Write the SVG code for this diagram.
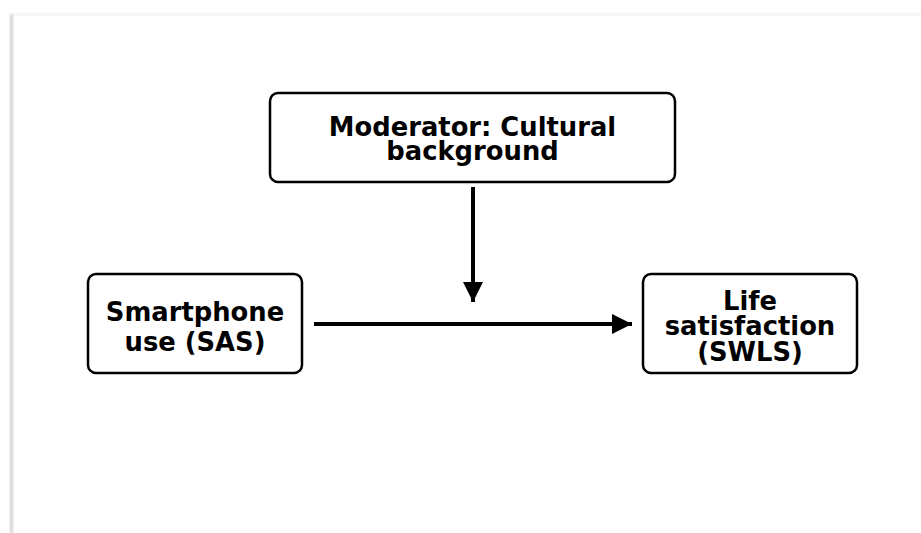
<svg xmlns="http://www.w3.org/2000/svg" width="921" height="533" viewBox="0 0 921 533">
  <defs>
    <style>
      .box { fill: #ffffff; stroke: #000000; stroke-width: 2.5; }
      .lbl { font-family: "DejaVu Sans", "Liberation Sans", sans-serif; font-weight: bold; font-size: 25.8px; fill: #000000; text-anchor: middle; }
      .edge { stroke: #000000; stroke-width: 4; fill: none; }
    </style>
    <marker id="head" viewBox="0 0 10 10" refX="10" refY="5" markerUnits="userSpaceOnUse" markerWidth="20" markerHeight="22" orient="auto">
      <path d="M0,0 L10,5 L0,10 Z" fill="#000000"/>
    </marker>
    <filter id="soft" x="-50%" y="-50%" width="200%" height="200%">
      <feGaussianBlur stdDeviation="0.8"/>
    </filter>
  </defs>

  <rect width="921" height="533" fill="#ffffff"/>

  <!-- page edge shading -->
  <g filter="url(#soft)">
    <line x1="11.5" y1="14" x2="11.5" y2="533" stroke="#bdbdbd" stroke-width="2"/>
    <line x1="11" y1="14.5" x2="921" y2="14.5" stroke="#e6e6e6" stroke-width="1.5"/>
  </g>

  <g id="edges">
    <line class="edge" x1="473" y1="187" x2="473" y2="302" marker-end="url(#head)"/>
    <line class="edge" x1="314" y1="324" x2="632" y2="324" marker-end="url(#head)"/>
  </g>

  <g id="moderator">
    <rect class="box" x="270" y="93" width="405" height="89" rx="8"/>
    <text class="lbl" x="472.5" y="135.5">Moderator: Cultural</text>
    <text class="lbl" x="472.5" y="160">background</text>
  </g>

  <g id="smartphone">
    <rect class="box" x="88" y="274" width="214" height="99" rx="8"/>
    <text class="lbl" x="195" y="320.5">Smartphone</text>
    <text class="lbl" x="195" y="351">use (SAS)</text>
  </g>

  <g id="life">
    <rect class="box" x="643" y="274" width="214" height="99" rx="8"/>
    <text class="lbl" x="750" y="310">Life</text>
    <text class="lbl" x="750" y="335">satisfaction</text>
    <text class="lbl" x="750" y="361">(SWLS)</text>
  </g>
</svg>
